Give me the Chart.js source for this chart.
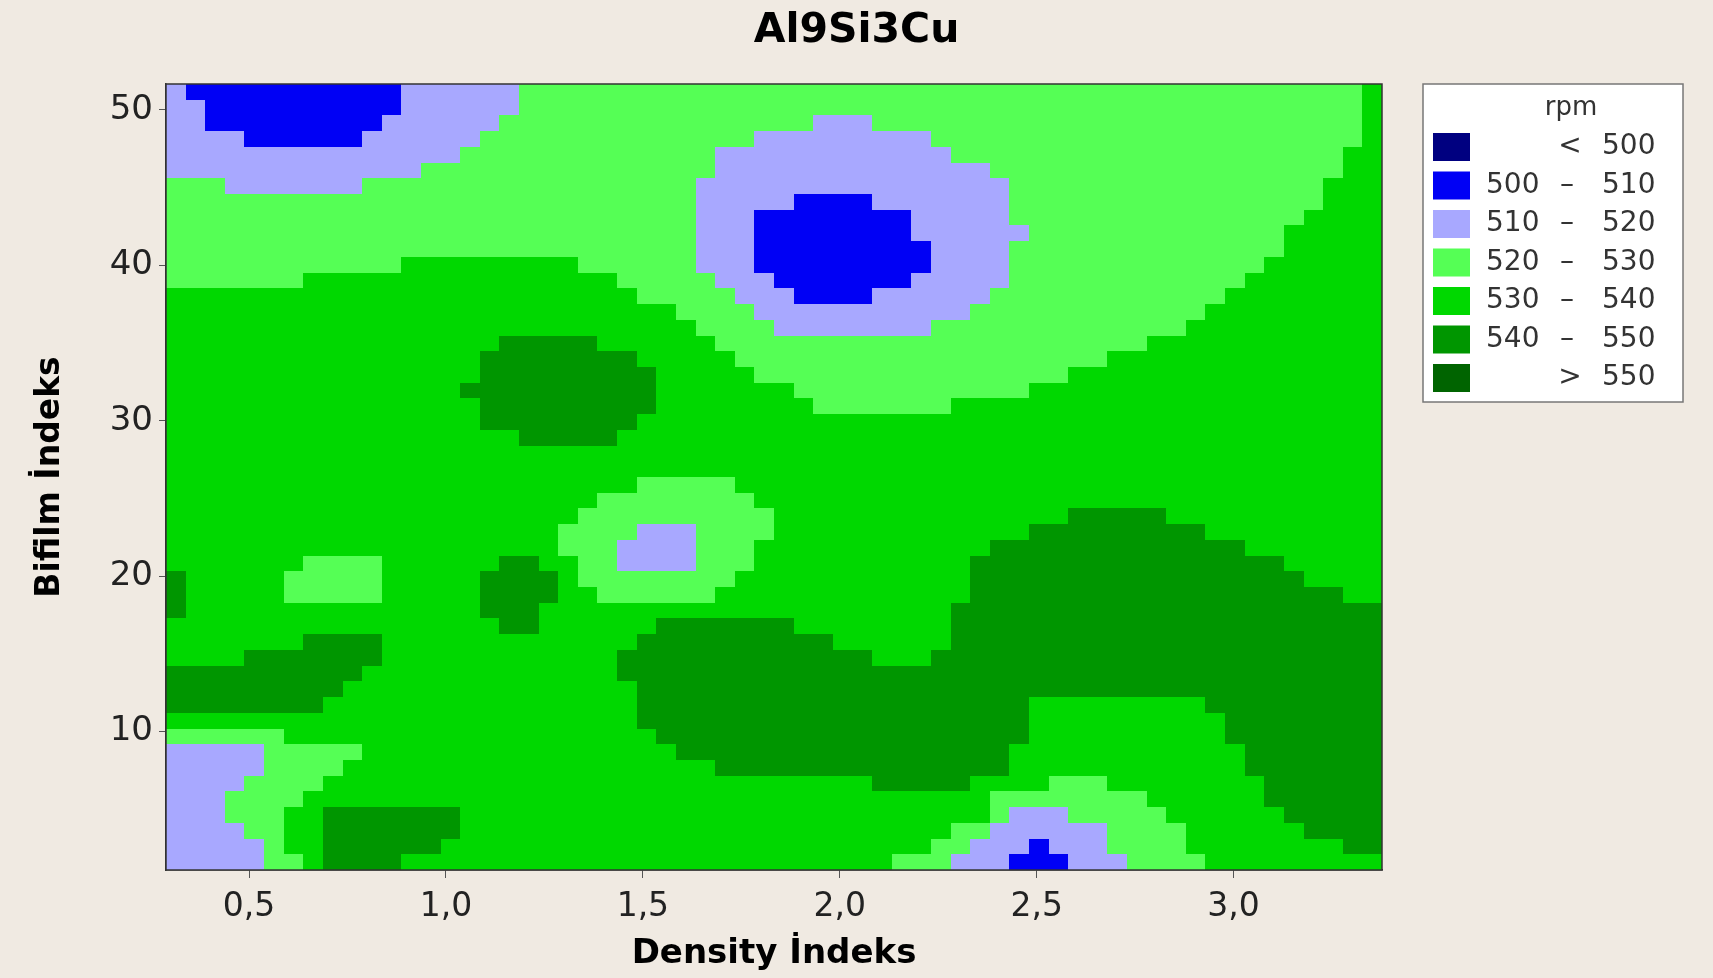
<!DOCTYPE html>
<html>
<head>
<meta charset="utf-8">
<title>Al9Si3Cu</title>
<script src="https://cdn.jsdelivr.net/npm/chart.js@4.4.1/dist/chart.umd.min.js"></script>
<style>
    html, body { margin: 0; padding: 0; background: #f0eae2; }
    #wrap { width: 1713px; height: 978px; }
</style>
</head>
<body>
<div id="wrap"><canvas id="contour" width="1713" height="978"></canvas></div>
<script>
// rpm classes (lower / upper bound of each band)
const levelLow  = [null, 500, 510, 520, 530, 540, 550];
const levelHigh = [500, 510, 520, 530, 540, 550, null];
const levelColors = ['#000080', '#0000f5', '#a8a8ff', '#55ff55', '#00d800', '#009600', '#006400'];

// axes
const densityRange = [0.289, 3.377];
const bifilmRange = [1.1, 51.67];
const densityTicks = [0.5, 1.0, 1.5, 2.0, 2.5, 3.0];
const bifilmTicks = [10, 20, 30, 40, 50];
const nCols = 62;

// rpm class per cell, one row per line from the top.
// each pair = [first column, class index], the class runs until the next pair
const gridRows = [
    [[0,2],[1,1],[12,2],[18,3],[61,4]],
    [[0,2],[2,1],[12,2],[18,3],[61,4]],
    [[0,2],[2,1],[11,2],[17,3],[33,2],[36,3],[61,4]],
    [[0,2],[4,1],[10,2],[16,3],[30,2],[39,3],[61,4]],
    [[0,2],[15,3],[28,2],[40,3],[60,4]],
    [[0,2],[13,3],[28,2],[42,3],[60,4]],
    [[0,3],[3,2],[10,3],[27,2],[43,3],[59,4]],
    [[0,3],[27,2],[32,1],[36,2],[43,3],[59,4]],
    [[0,3],[27,2],[30,1],[38,2],[43,3],[58,4]],
    [[0,3],[27,2],[30,1],[38,2],[44,3],[57,4]],
    [[0,3],[27,2],[30,1],[39,2],[43,3],[57,4]],
    [[0,3],[12,4],[21,3],[27,2],[30,1],[39,2],[43,3],[56,4]],
    [[0,3],[7,4],[23,3],[28,2],[31,1],[38,2],[43,3],[55,4]],
    [[0,4],[24,3],[29,2],[32,1],[36,2],[42,3],[54,4]],
    [[0,4],[26,3],[30,2],[41,3],[53,4]],
    [[0,4],[27,3],[31,2],[39,3],[52,4]],
    [[0,4],[17,5],[22,4],[28,3],[50,4]],
    [[0,4],[16,5],[24,4],[29,3],[48,4]],
    [[0,4],[16,5],[25,4],[30,3],[46,4]],
    [[0,4],[15,5],[25,4],[32,3],[44,4]],
    [[0,4],[16,5],[25,4],[33,3],[40,4]],
    [[0,4],[16,5],[24,4]],
    [[0,4],[18,5],[23,4]],
    [[0,4]],
    [[0,4]],
    [[0,4],[24,3],[29,4]],
    [[0,4],[22,3],[30,4]],
    [[0,4],[21,3],[31,4],[46,5],[51,4]],
    [[0,4],[20,3],[24,2],[27,3],[31,4],[44,5],[53,4]],
    [[0,4],[20,3],[23,2],[27,3],[30,4],[42,5],[55,4]],
    [[0,4],[7,3],[11,4],[17,5],[19,4],[21,3],[23,2],[27,3],[30,4],[41,5],[57,4]],
    [[0,5],[1,4],[6,3],[11,4],[16,5],[20,4],[21,3],[29,4],[41,5],[58,4]],
    [[0,5],[1,4],[6,3],[11,4],[16,5],[20,4],[22,3],[28,4],[41,5],[60,4]],
    [[0,5],[1,4],[16,5],[19,4],[40,5]],
    [[0,4],[17,5],[19,4],[25,5],[32,4],[40,5]],
    [[0,4],[7,5],[11,4],[24,5],[34,4],[40,5]],
    [[0,4],[4,5],[11,4],[23,5],[36,4],[39,5]],
    [[0,5],[10,4],[23,5]],
    [[0,5],[9,4],[24,5]],
    [[0,5],[8,4],[24,5],[44,4],[53,5]],
    [[0,4],[24,5],[44,4],[54,5]],
    [[0,3],[6,4],[25,5],[44,4],[54,5]],
    [[0,2],[5,3],[10,4],[26,5],[43,4],[55,5]],
    [[0,2],[5,3],[9,4],[28,5],[43,4],[55,5]],
    [[0,2],[4,3],[8,4],[36,5],[41,4],[45,3],[48,4],[56,5]],
    [[0,2],[3,3],[7,4],[42,3],[50,4],[56,5]],
    [[0,2],[3,3],[6,4],[8,5],[15,4],[42,3],[43,2],[46,3],[51,4],[57,5]],
    [[0,2],[4,3],[6,4],[8,5],[15,4],[40,3],[42,2],[48,3],[52,4],[58,5]],
    [[0,2],[5,3],[6,4],[8,5],[14,4],[39,3],[41,2],[44,1],[45,2],[48,3],[52,4],[60,5]],
    [[0,2],[5,3],[7,4],[8,5],[12,4],[37,3],[40,2],[43,1],[46,2],[49,3],[53,4]]
];

// one cell per run
const cells = [];
const dx = (densityRange[1] - densityRange[0]) / nCols;
const dy = (bifilmRange[1] - bifilmRange[0]) / gridRows.length;
gridRows.forEach(function(row, r) {
    row.forEach(function(run, i) {
        const end = i + 1 < row.length ? row[i + 1][0] : nCols;
        const x0 = densityRange[0] + run[0] * dx;
        const x1 = densityRange[0] + end * dx;
        const y0 = bifilmRange[1] - r * dy;
        const y1 = bifilmRange[1] - (r + 1) * dy;
        cells.push({x: (x0 + x1) / 2, y: (y0 + y1) / 2, x0: x0, x1: x1, y0: y0, y1: y1, v: run[1]});
    });
});

const FONT = 'DejaVu Sans';

// fond beige
const bgPlugin = {
    id: 'bg',
    beforeDraw(chart) {
        const ctx = chart.ctx;
        ctx.save();
        ctx.fillStyle = '#f0eae2';
        ctx.fillRect(0, 0, chart.width, chart.height);
        ctx.restore();
    }
};

// cellules du contour
const cellPlugin = {
    id: 'cells',
    beforeDatasetsDraw(chart) {
        const ctx = chart.ctx;
        const xs = chart.scales.x, ys = chart.scales.y;
        const a = chart.chartArea;
        ctx.save();
        ctx.beginPath();
        ctx.rect(a.left, a.top, a.right - a.left, a.bottom - a.top);
        ctx.clip();
        chart.data.datasets[0].data.forEach(function(c) {
            const px0 = Math.round(xs.getPixelForValue(c.x0));
            const px1 = Math.round(xs.getPixelForValue(c.x1));
            const py0 = Math.round(ys.getPixelForValue(c.y0));
            const py1 = Math.round(ys.getPixelForValue(c.y1));
            ctx.fillStyle = levelColors[c.v];
            ctx.fillRect(px0, py0, px1 - px0, py1 - py0);
        });
        ctx.restore();
    },
    afterDatasetsDraw(chart) {
        const ctx = chart.ctx;
        const a = chart.chartArea;
        ctx.save();
        ctx.strokeStyle = '#333';
        ctx.lineWidth = 1.5;
        ctx.strokeRect(a.left, a.top, a.right - a.left, a.bottom - a.top);
        ctx.restore();
    }
};

// legende rpm
const legendPlugin = {
    id: 'rpmLegend',
    afterDraw(chart) {
        const ctx = chart.ctx;
        const bx = 1423, by = 84, bw = 260, bh = 318;
        ctx.save();
        ctx.fillStyle = '#ffffff';
        ctx.fillRect(bx, by, bw, bh);
        ctx.strokeStyle = '#777';
        ctx.lineWidth = 1.5;
        ctx.strokeRect(bx, by, bw, bh);

        ctx.fillStyle = '#333';
        ctx.font = '26px "' + FONT + '"';
        ctx.textAlign = 'center';
        ctx.textBaseline = 'middle';
        ctx.fillText('rpm', 1571, 108);

        ctx.font = '28px "' + FONT + '"';
        levelColors.forEach(function(col, i) {
            const cy = 147 + i * 38.5;
            ctx.fillStyle = col;
            ctx.fillRect(1433, cy - 14, 37, 28);
            ctx.fillStyle = '#333';
            if (levelLow[i] === null) {
                ctx.textAlign = 'center';
                ctx.fillText('<', 1570, cy);
                ctx.textAlign = 'left';
                ctx.fillText(String(levelHigh[i]), 1602, cy);
            } else if (levelHigh[i] === null) {
                ctx.textAlign = 'center';
                ctx.fillText('>', 1570, cy);
                ctx.textAlign = 'left';
                ctx.fillText(String(levelLow[i]), 1602, cy);
            } else {
                ctx.textAlign = 'left';
                ctx.fillText(String(levelLow[i]), 1486, cy);
                ctx.textAlign = 'center';
                ctx.fillText('\u2013', 1567, cy);
                ctx.textAlign = 'left';
                ctx.fillText(String(levelHigh[i]), 1602, cy);
            }
        });
        ctx.restore();
    }
};

const config = {
    type: 'scatter',
    data: {
        datasets: [{
            label: 'rpm',
            data: cells,
            pointRadius: 0,
            pointHoverRadius: 0
        }]
    },
    options: {
        responsive: false,
        animation: false,
        layout: { padding: 0 },
        plugins: {
            legend: { display: false },
            tooltip: { enabled: false },
            title: {
                display: true,
                text: 'Al9Si3Cu',
                color: '#000',
                font: { family: FONT, size: 41, weight: 'bold' },
                padding: { top: 7, bottom: 27.8 }
            }
        },
        scales: {
            x: {
                type: 'linear',
                min: densityRange[0],
                max: densityRange[1],
                afterBuildTicks: function(s) { s.ticks = densityTicks.map(v => ({value: v})); },
                afterFit: function(s) { s.height = 108; },
                ticks: {
                    color: '#222',
                    font: { family: FONT, size: 33 },
                    padding: 10,
                    maxRotation: 0,
                    callback: v => v.toFixed(1).replace('.', ',')
                },
                grid: { drawOnChartArea: false, drawTicks: true, tickLength: 8, color: '#555' },
                border: { display: true, color: '#333', width: 1.5 },
                title: {
                    display: true,
                    text: 'Density İndeks',
                    color: '#000',
                    font: { family: FONT, size: 34, weight: 'bold' },
                    padding: { top: 0, bottom: 3 }
                }
            },
            y: {
                type: 'linear',
                min: bifilmRange[0],
                max: bifilmRange[1],
                afterBuildTicks: function(s) { s.ticks = bifilmTicks.map(v => ({value: v})); },
                afterFit: function(s) { s.width = 166; },
                ticks: {
                    color: '#222',
                    font: { family: FONT, size: 34 },
                    padding: 6
                },
                grid: { drawOnChartArea: false, drawTicks: true, tickLength: 7, color: '#555' },
                border: { display: true, color: '#333', width: 1.5 },
                title: {
                    display: true,
                    text: 'Bifilm İndeks',
                    color: '#000',
                    font: { family: FONT, size: 33, weight: 'bold' },
                    padding: { top: 31, bottom: 0 }
                }
            },
            // place pour la legende a droite
            side: {
                type: 'linear',
                position: 'right',
                display: true,
                afterFit: function(s) { s.width = 331; },
                ticks: { display: false },
                grid: { display: false },
                border: { display: false }
            }
        }
    },
    plugins: [bgPlugin, cellPlugin, legendPlugin]
};

const chart = new Chart(document.getElementById('contour'), config);
</script>
</body>
</html>
